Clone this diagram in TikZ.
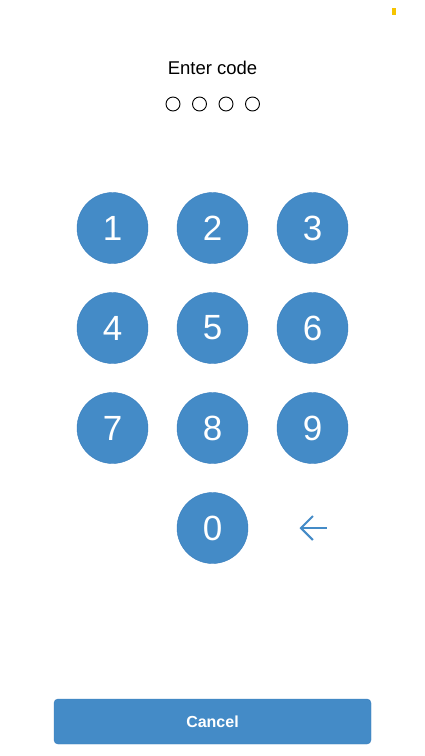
\documentclass[tikz,border=0pt]{standalone}
\usepackage{fontspec}
\setmainfont{Liberation Sans}
\usetikzlibrary{positioning,arrows.meta}
\definecolor{keyblue}{RGB}{68,139,199}
\definecolor{keyedge}{RGB}{56,126,190}
\definecolor{battery}{RGB}{246,196,0}
\tikzstyle{key} = [circle, draw=keyedge, fill=keyblue, minimum size=71pt,
    inner sep=0pt, text=white, font=\fontsize{35}{35}\selectfont]
\tikzstyle{dot} = [circle, draw=black, line width=0.9pt, minimum size=14pt, inner sep=0pt]
\tikzstyle{button} = [draw=keyedge, fill=keyblue, rounded corners=4pt,
    minimum width=317pt, minimum height=45pt, text=white,
    font=\bfseries\fontsize{16}{16}\selectfont]
\tikzstyle{output} = [coordinate]

\begin{document}
\begin{tikzpicture}[x=1pt, y=-1pt, node distance=100pt, >={Straight Barb[length=12pt,width=24pt]}]
    \useasboundingbox[fill=white] (0,0) rectangle (425,756);
    \fill[battery] (392,8) rectangle (396,15);
    % We start by placing the title and the code dots
    \node [font=\fontsize{18.5}{18.5}\selectfont] (title) at (212.5,68) {Enter code};
    \node [dot] (d1) at (173,104) {};
    \node [dot, right of=d1, node distance=26.5pt] (d2) {};
    \node [dot, right of=d2, node distance=26.5pt] (d3) {};
    \node [dot, right of=d3, node distance=26.5pt] (d4) {};
    % Then the keys of the pad
    \node [key] (k1) at (112.5,228) {1};
    \node [key, right of=k1] (k2) {2};
    \node [key, right of=k2] (k3) {3};
    \node [key, below of=k1] (k4) {4};
    \node [key, right of=k4] (k5) {5};
    \node [key, right of=k5] (k6) {6};
    \node [key, below of=k4] (k7) {7};
    \node [key, right of=k7] (k8) {8};
    \node [key, right of=k8] (k9) {9};
    \node [key, below of=k8] (k0) {0};
    \node [output, right of=k0, node distance=114pt] (back) {};
    \node [output, right of=k0, node distance=87pt] (backtip) {};
    % The back key is only an arrow
    \draw [->, draw=keyblue, line width=2pt] (back) -- (backtip);
    \node [button] (cancel) at (212.5,721.5) {Cancel};
\end{tikzpicture}
\end{document}
